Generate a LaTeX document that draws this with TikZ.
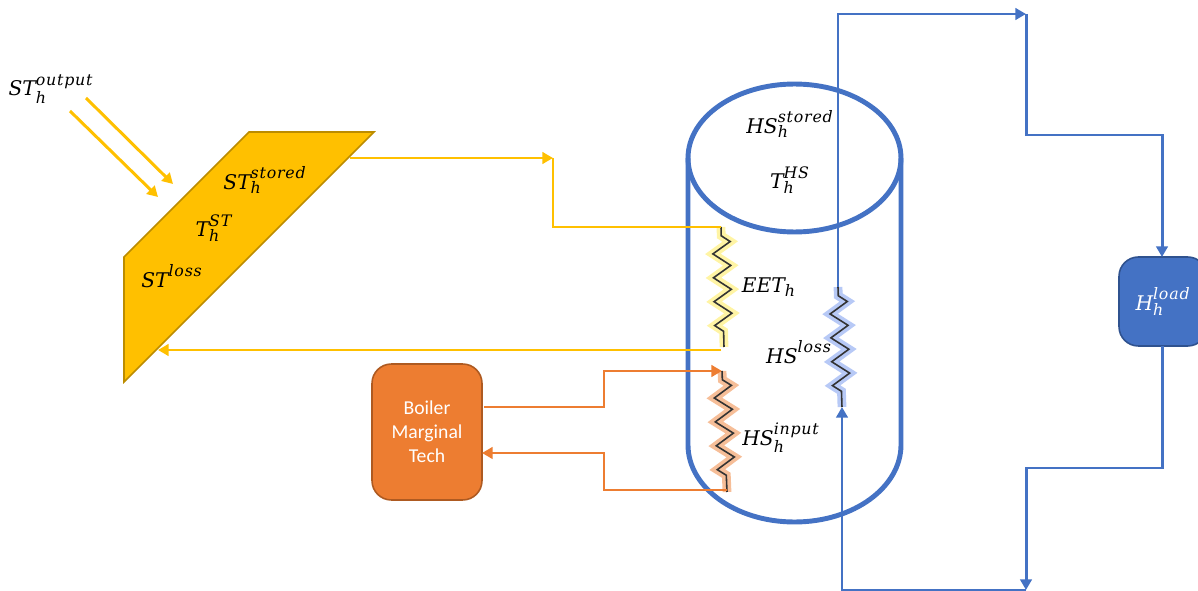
\documentclass[tikz,border=0pt]{standalone}
\usepackage{amsmath}
\usepackage{fontspec}
\setsansfont{Carlito}
\newfontfamily\capfont{DejaVu Serif}
\newfontfamily\supfont[LetterSpace=5]{DejaVu Serif}
\usetikzlibrary{arrows.meta, decorations.pathmorphing, shapes.geometric}
\definecolor{hsblue}{HTML}{4472C4}
\definecolor{hsdarkblue}{HTML}{2F528F}
\definecolor{stgold}{HTML}{FFC000}
\definecolor{stdarkgold}{HTML}{BC8C00}
\definecolor{blorange}{HTML}{ED7D31}
\definecolor{bldarkorange}{HTML}{AE5A21}
\definecolor{eetyellow}{HTML}{FFE94A}
\definecolor{lossglow}{HTML}{6F94EE}
\definecolor{coildark}{HTML}{333333}
% symbol with subscript and superscript
\newcommand{\sym}[3]{$\mbox{\capfont\fontsize{11.5}{14}\selectfont\itshape #1}_{\mbox{\supfont\fontsize{9}{11}\selectfont\itshape #2}}^{\mbox{\supfont\fontsize{9}{11}\selectfont\itshape #3}}$}

\begin{document}
\begin{tikzpicture}[
  x=0.02cm, y=-0.02cm,
  lbl/.style={inner sep=0pt, text=black},
  pipe/.style={line width=1.7pt, line join=miter},
  arr/.style={pipe, -{Triangle[length=6pt, width=6.5pt]}},
  zig/.style={decorate, decoration={zigzag, amplitude=5pt, segment length=13.6pt, pre length=5pt, post length=5pt}},
  coil/.style={zig, draw=coildark, line width=0.9pt},
  glow/.style={zig, draw=#1, line width=5pt, opacity=0.5},
  block/.style={draw, rounded corners=11pt, line width=0.9pt, inner sep=0pt, align=center},
]
  \clip (0,0) rectangle (1198,591);

  % solar panel
  \coordinate (panelA) at (249,132);
  \coordinate (panelB) at (374,132);
  \coordinate (panelC) at (124,382);
  \coordinate (panelD) at (124,257);
  \draw[fill=stgold, draw=stdarkgold, line width=0.9pt] (panelA) -- (panelB) -- (panelC) -- (panelD) -- cycle;
  \coordinate (panelout) at (350,158);
  \coordinate (panelin) at (158,350);

  \coordinate (sunA) at (86,98);
  \coordinate (sunAend) at (173,184);
  \coordinate (sunB) at (70,111);
  \coordinate (sunBend) at (158,197);
  \draw[arr, stgold] (sunA) -- (sunAend);
  \draw[arr, stgold] (sunB) -- (sunBend);

  \node[lbl] (output) at (51,89) {\sym{ST}{h}{output}};
  \node[lbl] (ststored) at (265,180) {\sym{ST}{h}{stored}};
  \node[lbl] (tst) at (214,228) {\sym{T}{h}{ST}};
  \node[lbl] (stloss) at (172,278) {\sym{ST}{}{loss}};

  % tank
  \node[ellipse, draw=hsblue, line width=2.8pt, minimum width=4.26cm, minimum height=2.96cm, inner sep=0pt, outer sep=0pt] (tanktop) at (794.5,158) {};
  \coordinate (tankL) at (688,158);
  \coordinate (tankR) at (901,158);
  \draw[hsblue, line width=2.8pt] (tankL) -- (688,445) .. controls (688,487) and (735,522) .. (794.5,522) .. controls (854,522) and (901,487) .. (901,445) -- (tankR);

  \node[lbl] (hsstored) at (790,124) {\sym{HS}{h}{stored}};
  \node[lbl] (ths) at (790,180) {\sym{T}{h}{HS}};
  \node[lbl] (eet) at (769,287) {\sym{EET}{h}{}};
  \node[lbl] (hsloss) at (799,354) {\sym{HS}{}{loss}};
  \node[lbl] (hsinput) at (781,438) {\sym{HS}{h}{input}};

  % coils
  \coordinate (eettop) at (721,227);
  \coordinate (eetbot) at (724,347);
  \coordinate (inputtop) at (722,371);
  \coordinate (inputbot) at (727,492);
  \coordinate (losstop) at (838,287);
  \coordinate (lossbot) at (842,407);
  \draw[glow=eetyellow] (eettop) -- (eetbot);
  \draw[glow=blorange] (inputtop) -- (inputbot);
  \draw[glow=lossglow] (losstop) -- (lossbot);
  \draw[coil] (eettop) -- (eetbot);
  \draw[coil] (inputtop) -- (inputbot);
  \draw[coil] (losstop) -- (lossbot);

  % yellow loop
  \coordinate (stjoint) at (553,158);
  \coordinate (eetback) at (721,350);
  \draw[arr, stgold] (panelout) -- (stjoint);
  \draw[pipe, stgold] (stjoint) |- (eettop);
  \draw[arr, stgold] (eetback) -- (panelin);

  % boiler
  \node[block, fill=blorange, draw=bldarkorange, minimum width=2.2cm, minimum height=2.72cm, text=white, font=\sffamily\fontsize{11.2}{13.6}\selectfont] (boiler) at (427,432) {Boiler\\Marginal\\Tech};
  \coordinate (boilerout) at (484,407);
  \coordinate (boilerin) at (482,453);
  \coordinate (orangetop) at (604,371);
  \coordinate (orangebot) at (727,490);
  \draw[arr, blorange] (boilerout) -| (orangetop) -- (inputtop);
  \draw[arr, blorange] (orangebot) -| (604,453) -- (boilerin);

  % load
  \node[block, fill=hsblue, draw=hsdarkblue, minimum width=1.76cm, minimum height=1.78cm, text=white] (load) at (1163,301.5) {\color{white}\sym{H}{h}{load}};

  % blue loop
  \coordinate (topjoint) at (1026,14);
  \coordinate (botjoint) at (1026,590);
  \draw[arr, hsblue] (losstop) |- (topjoint);
  \draw[arr, hsblue] (topjoint) |- (1162,135) -- (1162,257);
  \draw[arr, hsblue] (1162,346) -- (1162,468) -| (botjoint);
  \draw[arr, hsblue] (botjoint) -| (lossbot);
\end{tikzpicture}
\end{document}
